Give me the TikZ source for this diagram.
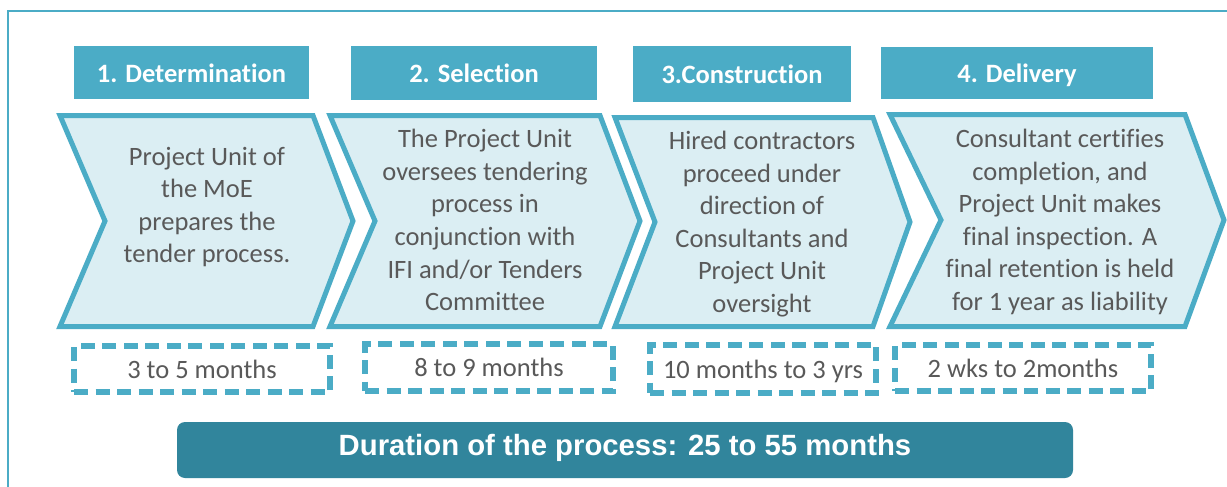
\documentclass[tikz,border=0pt]{standalone}
\usepackage{fontspec}
\setmainfont[Ligatures=NoCommon]{Carlito}
\newfontfamily\arialfont{Liberation Sans}
\definecolor{accent}{HTML}{4BACC6}
\definecolor{chevfill}{HTML}{DBEEF3}
\definecolor{darkbar}{HTML}{31859C}
\definecolor{bodytext}{HTML}{595959}
\tikzset{
  hdr/.style={fill=accent, draw=none, text=white, inner sep=0pt,
    font=\fontsize{26.5}{32}\selectfont\bfseries, text height=19pt, text depth=0pt},
  chev/.style={fill=chevfill, draw=accent, line width=5pt, line join=miter},
  chevtext/.style={align=center, text=bodytext, inner sep=0pt,
    font=\fontsize{26.5}{32.6}\selectfont},
  dbox/.style={draw=accent, line width=5.3pt, dash pattern=on 14pt off 7.5pt,
    text=bodytext, inner sep=0pt, font=\fontsize{26.5}{32}\selectfont,
    text height=18pt, text depth=0pt},
  durbar/.style={fill=darkbar, draw=none, rounded corners=8pt, text=white, inner sep=0pt,
    font=\arialfont\fontsize{29.3}{34}\selectfont\bfseries, text height=10pt, text depth=0pt}
}
\begin{document}
\begin{tikzpicture}[x=1pt,y=-1pt]
\useasboundingbox (0,0) rectangle (1227,487);
\clip (0,0) rectangle (1227,487);
\fill[white] (0,0) rectangle (1227,487);
% outer frame
\draw[accent, line width=2pt] (7.8,520) -- (7.8,11) -- (1260,11);
% headers
\node[hdr, minimum width=235pt, minimum height=53pt] (h1) at (191.5,72.5) {1. Determination};
\node[hdr, minimum width=246pt, minimum height=54pt] (h2) at (474,73) {2. Selection};
\node[hdr, minimum width=218pt, minimum height=56pt] (h3) at (742,74) {3.Construction};
\node[hdr, minimum width=272pt, minimum height=52pt] (h4) at (1017,73) {4. Delivery};
% chevrons
\draw[chev] (60,115.5) -- (313,115.5) -- (353,221) -- (313,326.5) -- (60,326.5) -- (105,221) -- cycle;
\draw[chev] (330,115.5) -- (600,115.5) -- (640,221) -- (600,326.5) -- (330,326.5) -- (375,221) -- cycle;
\draw[chev] (615,117.5) -- (873,117.5) -- (910,222) -- (873,326.5) -- (615,326.5) -- (655,222) -- cycle;
\draw[chev] (890,114.5) -- (1185,114.5) -- (1224,220) -- (1185,326.5) -- (890,326.5) -- (941,220) -- cycle;
% chevron texts
\node[chevtext] (c1) at (207,207) {Project Unit of\\the MoE\\prepares the\\tender process.};
\node[chevtext] (c2) at (485,220) {The Project Unit\\oversees tendering\\process in\\conjunction with\\IFI and/or Tenders\\Committee};
\node[chevtext] (c3) at (762,224) {Hired contractors\\proceed under\\direction of\\Consultants and\\Project Unit\\oversight};
\node[chevtext] (c4) at (1060,222) {Consultant certifies\\completion, and\\Project Unit makes\\final inspection. A\\final retention is held\\for 1 year as liability};
% duration boxes
\node[dbox, minimum width=256pt, minimum height=46pt] (d1) at (202,369) {3 to 5 months};
\node[dbox, minimum width=248pt, minimum height=47pt] (d2) at (489,367.5) {8 to 9 months};
\node[dbox, minimum width=226pt, minimum height=48pt] (d3) at (763,369) {10 months to 3 yrs};
\node[dbox, minimum width=256pt, minimum height=46pt] (d4) at (1023,368) {2 wks to 2months};
% total duration bar
\node[durbar, minimum width=896pt, minimum height=56pt] (total) at (625,450) {Duration of the process: 25 to 55 months};
\end{tikzpicture}
\end{document}
